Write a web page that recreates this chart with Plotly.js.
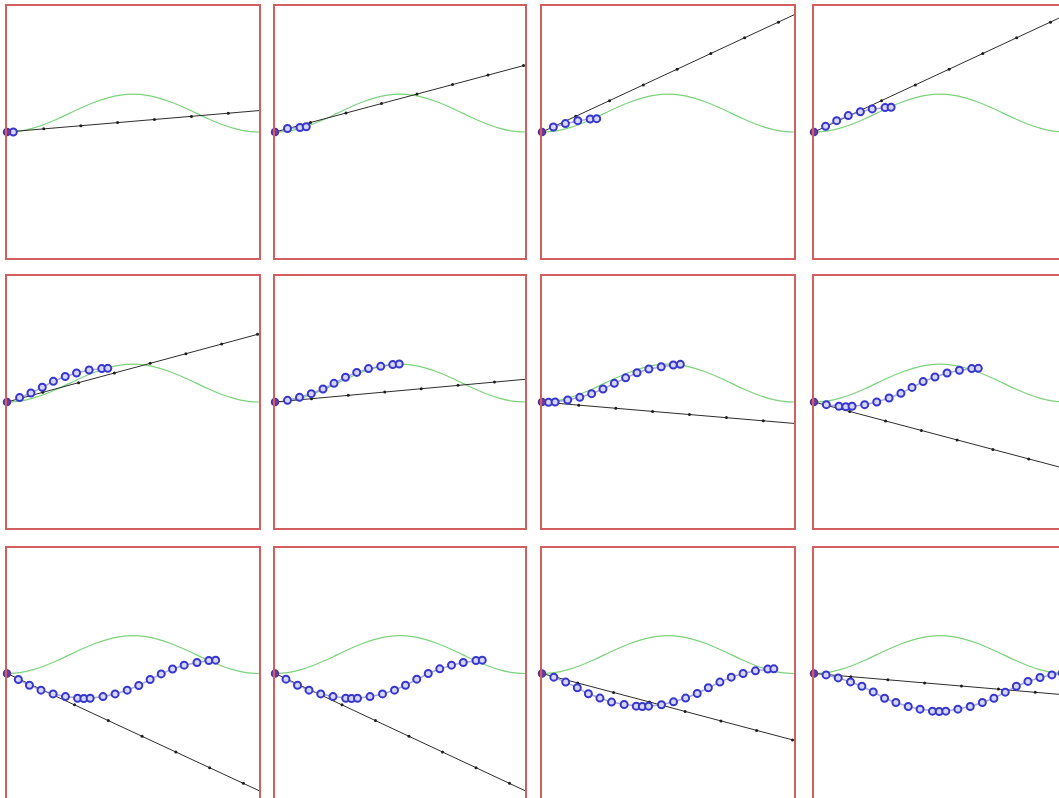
<!DOCTYPE html>
<html><head><meta charset="utf-8">
<script src="https://cdn.plot.ly/plotly-3.0.1.min.js"></script>
<style>html,body{margin:0;padding:0;overflow:hidden;background:#fff}</style>
</head><body><div id="chart"></div>
<script>
// Green target curve (same in every panel)
const curveX = [0,0.05,0.1,0.15,0.2,0.25,0.3,0.35,0.4,0.45,0.5,0.55,0.6,0.65,0.7,0.75,0.8,0.85,0.9,0.95,1.0];
const curveY = [0,0.007,0.029,0.062,0.103,0.150,0.197,0.238,0.271,0.293,0.300,0.293,0.271,0.238,0.197,0.150,0.103,0.062,0.029,0.007,0];

// Black tangent line: y value at the right edge (x = 1) for each of the 12 panels
const tangentEnd = [0.17,0.53,0.93,0.93, 0.54,0.18,-0.17,-0.53, -0.93,-0.93,-0.53,-0.17];

// Small tick dots along the tangent lines
const tickX = [
  [0.146,0.293,0.439,0.585,0.732,0.878],
  [0.142,0.284,0.426,0.568,0.710,0.852,0.994],
  [0.134,0.268,0.402,0.536,0.670,0.804,0.938],
  [0.134,0.268,0.402,0.536,0.670,0.804,0.938],
  [0.142,0.284,0.426,0.568,0.710,0.852,0.994],
  [0.146,0.293,0.439,0.585,0.732,0.878],
  [0.146,0.293,0.439,0.585,0.732,0.878],
  [0.142,0.284,0.426,0.568,0.710,0.852,0.994],
  [0.134,0.268,0.402,0.536,0.670,0.804,0.938],
  [0.134,0.268,0.402,0.536,0.670,0.804,0.938],
  [0.142,0.284,0.426,0.568,0.710,0.852,0.994],
  [0.146,0.293,0.439,0.585,0.732,0.878]
];
const tickY = [
  [0.025,0.050,0.075,0.099,0.124,0.149],
  [0.075,0.151,0.226,0.301,0.376,0.452,0.527],
  [0.125,0.249,0.374,0.498,0.623,0.748,0.872],
  [0.125,0.249,0.374,0.498,0.623,0.748,0.872],
  [0.077,0.153,0.230,0.307,0.383,0.460,0.537],
  [0.026,0.053,0.079,0.105,0.132,0.158],
  [-0.025,-0.050,-0.075,-0.099,-0.124,-0.149],
  [-0.075,-0.151,-0.226,-0.301,-0.376,-0.452,-0.527],
  [-0.125,-0.249,-0.374,-0.498,-0.623,-0.748,-0.872],
  [-0.125,-0.249,-0.374,-0.498,-0.623,-0.748,-0.872],
  [-0.075,-0.151,-0.226,-0.301,-0.376,-0.452,-0.527],
  [-0.025,-0.050,-0.075,-0.099,-0.124,-0.149]
];

// Blue sampled path in each panel
const pathX = [
  [0,0.025],
  [0,0.05,0.10,0.125],
  [0,0.045,0.093,0.142,0.191,0.217],
  [0,0.046,0.090,0.136,0.184,0.231,0.282,0.306],
  [0,0.050,0.095,0.140,0.184,0.231,0.276,0.326,0.376,0.400],
  [0,0.050,0.098,0.145,0.192,0.236,0.282,0.327,0.374,0.423,0.471,0.497],
  [0,0.026,0.052,0.102,0.150,0.197,0.242,0.287,0.332,0.377,0.424,0.473,0.521,0.549],
  [0,0.049,0.099,0.126,0.151,0.201,0.249,0.298,0.345,0.389,0.433,0.480,0.528,0.577,0.626,0.652],
  [0,0.045,0.089,0.135,0.183,0.232,0.280,0.305,0.330,0.381,0.429,0.477,0.523,0.568,0.612,0.657,0.703,0.754,0.801,0.828],
  [0,0.044,0.090,0.136,0.183,0.232,0.283,0.306,0.330,0.380,0.430,0.478,0.522,0.567,0.613,0.659,0.706,0.753,0.804,0.829],
  [0,0.047,0.094,0.140,0.184,0.230,0.276,0.326,0.374,0.398,0.423,0.474,0.522,0.570,0.616,0.660,0.706,0.751,0.798,0.847,0.896,0.920],
  [0,0.048,0.096,0.145,0.190,0.235,0.280,0.325,0.374,0.421,0.470,0.497,0.523,0.571,0.620,0.668,0.714,0.759,0.803,0.849,0.897,0.944,0.985]
];
const pathY = [
  [0,0.0],
  [0,0.028,0.036,0.042],
  [0,0.040,0.067,0.090,0.103,0.106],
  [0,0.045,0.090,0.130,0.161,0.183,0.194,0.196],
  [0,0.035,0.071,0.117,0.164,0.202,0.230,0.254,0.265,0.267],
  [0,0.013,0.037,0.066,0.103,0.148,0.196,0.235,0.265,0.283,0.297,0.302],
  [0,-0.002,0,0.016,0.037,0.066,0.103,0.148,0.192,0.232,0.262,0.280,0.294,0.299],
  [0,-0.021,-0.034,-0.037,-0.034,-0.021,0,0.032,0.069,0.116,0.162,0.198,0.230,0.252,0.265,0.267],
  [0,-0.048,-0.093,-0.132,-0.162,-0.183,-0.196,-0.198,-0.196,-0.183,-0.162,-0.132,-0.095,-0.048,-0.003,0.036,0.066,0.087,0.103,0.106],
  [0,-0.045,-0.093,-0.132,-0.162,-0.183,-0.196,-0.198,-0.196,-0.183,-0.162,-0.132,-0.093,-0.045,0,0.037,0.066,0.087,0.103,0.106],
  [0,-0.029,-0.068,-0.113,-0.161,-0.195,-0.227,-0.246,-0.259,-0.262,-0.259,-0.248,-0.225,-0.195,-0.159,-0.113,-0.068,-0.029,0,0.021,0.035,0.037],
  [0,-0.011,-0.035,-0.067,-0.101,-0.146,-0.196,-0.230,-0.262,-0.283,-0.299,-0.302,-0.299,-0.283,-0.262,-0.230,-0.196,-0.148,-0.101,-0.063,-0.032,-0.011,0.003]
];

const W = 1070, H = 805;
const colLeft = [7, 275, 542, 814];
const colWidth = [252, 250, 252, 252];
const rowTop = [6, 276, 547.5];
const panelH = 252;

const traces = [];
const layout = {
  width: W, height: H,
  margin: {l:0, r:0, t:0, b:0},
  paper_bgcolor: '#fff', plot_bgcolor: '#fff',
  showlegend: false
};
const border = 'rgb(210,95,95)';

for (let i = 0; i < 12; i++) {
  const r = Math.floor(i / 4), c = i % 4;
  const n = i + 1;
  const xa = 'x' + (n === 1 ? '' : n), ya = 'y' + (n === 1 ? '' : n);
  const xk = 'xaxis' + (n === 1 ? '' : n), yk = 'yaxis' + (n === 1 ? '' : n);
  const axBase = {showgrid:false, zeroline:false, showticklabels:false, ticks:'',
    showline:true, mirror:true, linecolor:border, linewidth:2, fixedrange:true};
  layout[xk] = Object.assign({}, axBase, {
    domain: [colLeft[c] / W, (colLeft[c] + colWidth[c]) / W],
    range: [0, 1], anchor: ya
  });
  layout[yk] = Object.assign({}, axBase, {
    domain: [(H - rowTop[r] - panelH) / H, (H - rowTop[r]) / H],
    range: [-1, 1], anchor: xa
  });
  traces.push({x: curveX, y: curveY, xaxis: xa, yaxis: ya, mode: 'lines',
    line: {color: 'rgb(125,210,125)', width: 1.2, shape: 'spline'}, hoverinfo: 'skip'});
  traces.push({x: [0, 1], y: [0, tangentEnd[i]], xaxis: xa, yaxis: ya, mode: 'lines',
    line: {color: 'rgb(45,45,45)', width: 1}, hoverinfo: 'skip'});
  traces.push({x: tickX[i], y: tickY[i], xaxis: xa, yaxis: ya, mode: 'markers',
    marker: {color: 'rgb(30,30,30)', size: 3}, hoverinfo: 'skip', cliponaxis: false});
  traces.push({x: pathX[i].slice(1), y: pathY[i].slice(1), xaxis: xa, yaxis: ya, mode: 'lines+markers',
    line: {color: 'rgba(130,130,215,0.7)', width: 1.5},
    marker: {symbol: 'circle', size: 7, color: 'rgb(215,215,245)', line: {color: 'rgb(55,55,205)', width: 2}},
    hoverinfo: 'skip', cliponaxis: false});
  traces.push({x: [pathX[i][0]], y: [pathY[i][0]], xaxis: xa, yaxis: ya, mode: 'markers',
    marker: {size: 7, color: 'rgb(110,60,160)', line: {color: 'rgb(80,50,160)', width: 1.5}},
    hoverinfo: 'skip', cliponaxis: false});
}

Plotly.newPlot('chart', traces, layout, {staticPlot: true, displayModeBar: false});
</script>
</body></html>
